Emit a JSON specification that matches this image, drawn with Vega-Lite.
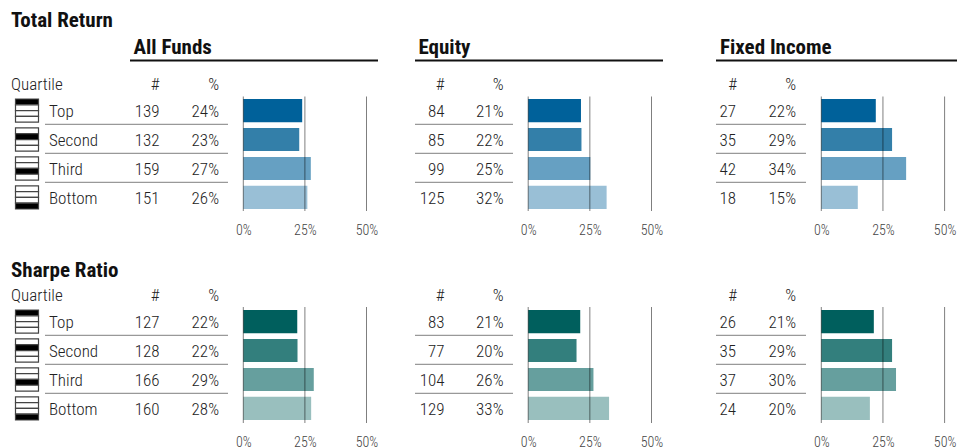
{"$schema":"https://vega.github.io/schema/vega-lite/v6.json","padding":0,"background":"#ffffff","bounds":"flush","spacing":{"row":45,"column":0},"columns":3,
"config":{"view":{"stroke":null},"font":"Roboto Condensed","text":{"font":"Roboto Condensed","fontWeight":300,"fontSize":17,"color":"#222222"},"title":{"font":"Roboto Condensed","fontSize":21,"fontWeight":"bold","color":"#111111","anchor":"start","frame":"group","baseline":"alphabetic"},"axis":{"labelFont":"Roboto Condensed","labelFontWeight":300,"labelFontSize":14,"labelColor":"#444444","labelBaseline":"top","labelPadding":12,"labelAngle":0,"domain":false,"ticks":false,"grid":false,"title":null,"labelFlush":false,"labelOverlap":false}},
"datasets":{"funds":[
{"metric":"Total Return","block":"All Funds","quartile":"Top","count":139,"share":0.239},
{"metric":"Total Return","block":"All Funds","quartile":"Second","count":132,"share":0.227},
{"metric":"Total Return","block":"All Funds","quartile":"Third","count":159,"share":0.274},
{"metric":"Total Return","block":"All Funds","quartile":"Bottom","count":151,"share":0.26},
{"metric":"Total Return","block":"Equity","quartile":"Top","count":84,"share":0.214},
{"metric":"Total Return","block":"Equity","quartile":"Second","count":85,"share":0.216},
{"metric":"Total Return","block":"Equity","quartile":"Third","count":99,"share":0.252},
{"metric":"Total Return","block":"Equity","quartile":"Bottom","count":125,"share":0.318},
{"metric":"Total Return","block":"Fixed Income","quartile":"Top","count":27,"share":0.221},
{"metric":"Total Return","block":"Fixed Income","quartile":"Second","count":35,"share":0.287},
{"metric":"Total Return","block":"Fixed Income","quartile":"Third","count":42,"share":0.344},
{"metric":"Total Return","block":"Fixed Income","quartile":"Bottom","count":18,"share":0.148},
{"metric":"Sharpe Ratio","block":"All Funds","quartile":"Top","count":127,"share":0.219},
{"metric":"Sharpe Ratio","block":"All Funds","quartile":"Second","count":128,"share":0.22},
{"metric":"Sharpe Ratio","block":"All Funds","quartile":"Third","count":166,"share":0.286},
{"metric":"Sharpe Ratio","block":"All Funds","quartile":"Bottom","count":160,"share":0.2754},
{"metric":"Sharpe Ratio","block":"Equity","quartile":"Top","count":83,"share":0.211},
{"metric":"Sharpe Ratio","block":"Equity","quartile":"Second","count":77,"share":0.196},
{"metric":"Sharpe Ratio","block":"Equity","quartile":"Third","count":104,"share":0.2646},
{"metric":"Sharpe Ratio","block":"Equity","quartile":"Bottom","count":129,"share":0.328},
{"metric":"Sharpe Ratio","block":"Fixed Income","quartile":"Top","count":26,"share":0.213},
{"metric":"Sharpe Ratio","block":"Fixed Income","quartile":"Second","count":35,"share":0.287},
{"metric":"Sharpe Ratio","block":"Fixed Income","quartile":"Third","count":37,"share":0.303},
{"metric":"Sharpe Ratio","block":"Fixed Income","quartile":"Bottom","count":24,"share":0.197}],
"icons":[
{"quartile":"Top","slot":1,"state":"filled"},{"quartile":"Top","slot":2,"state":"empty"},{"quartile":"Top","slot":3,"state":"empty"},{"quartile":"Top","slot":4,"state":"empty"},
{"quartile":"Second","slot":1,"state":"empty"},{"quartile":"Second","slot":2,"state":"filled"},{"quartile":"Second","slot":3,"state":"empty"},{"quartile":"Second","slot":4,"state":"empty"},
{"quartile":"Third","slot":1,"state":"empty"},{"quartile":"Third","slot":2,"state":"empty"},{"quartile":"Third","slot":3,"state":"filled"},{"quartile":"Third","slot":4,"state":"empty"},
{"quartile":"Bottom","slot":1,"state":"empty"},{"quartile":"Bottom","slot":2,"state":"empty"},{"quartile":"Bottom","slot":3,"state":"empty"},{"quartile":"Bottom","slot":4,"state":"filled"}],
"ticks":[{"tick":0},{"tick":0.25},{"tick":0.5}],"one":[{"n":1}],"heads":[{"label":"#"},{"label":"%"}]},
"concat":[
{"width":400,"height":211,"title":{"text":"All Funds","dx":133.5,"offset":-58},"data":{"name":"funds"},"transform":[{"filter":"datum.metric==='Total Return'&&datum.block==='All Funds'"}],"resolve":{"scale":{"x":"independent","y":"independent","color":"independent"}},"layer":[
{"data":{"name":"one"},"mark":{"type":"text","align":"left","baseline":"alphabetic","fontWeight":"bold","fontSize":21,"color":"#111111"},"encoding":{"text":{"value":"Total Return"},"x":{"datum":"q","scale":{"domain":["q"],"range":[11,11]},"axis":null},"y":{"datum":"t","scale":{"domain":["t"],"range":[27,27]},"axis":null}}},
{"data":{"name":"one"},"mark":{"type":"rule","stroke":"#111111","strokeWidth":2},"encoding":{"x":{"datum":0,"scale":{"domain":[0,1],"range":[130,378]},"axis":null},"x2":{"datum":1},"y":{"datum":"r","scale":{"domain":["r"],"range":[60.5,60.5]},"axis":null}}},
{"data":{"name":"icons"},"mark":{"type":"bar","stroke":"#444444","strokeWidth":1.2},"encoding":{"x":{"datum":0,"scale":{"domain":[0,1],"range":[15.5,38.5]},"axis":null},"x2":{"datum":1},"y":{"field":"quartile","type":"nominal","scale":{"domain":["Top","Second","Third","Bottom"],"range":[99,209],"paddingInner":0.2,"paddingOuter":0},"axis":null},"yOffset":{"field":"slot","type":"ordinal","scale":{"paddingInner":0,"paddingOuter":0}},"color":{"field":"state","type":"nominal","scale":{"domain":["filled","empty"],"range":["#000000","#ffffff"]},"legend":null}}},
{"mark":{"type":"bar"},"encoding":{"x":{"field":"share","type":"quantitative","scale":{"domain":[0,0.5],"range":[243.3,366.5],"nice":false},"axis":null},"y":{"field":"quartile","type":"nominal","scale":{"domain":["Top","Second","Third","Bottom"],"range":[99,209],"paddingInner":0.2,"paddingOuter":0},"axis":null},"color":{"field":"quartile","type":"nominal","scale":{"domain":["Top","Second","Third","Bottom"],"range":["#00619a","#337fa9","#66a0c2","#99bfd6"]},"legend":null}}},
{"data":{"name":"ticks"},"mark":{"type":"rule","stroke":"#000000","strokeOpacity":0.5,"strokeWidth":1},"encoding":{"x":{"field":"tick","type":"quantitative","scale":{"domain":[0,0.5],"range":[243.3,366.5],"nice":false},"axis":{"values":[0,0.25,0.5],"format":".0%"}},"y":{"datum":0,"scale":{"domain":[0,1],"range":[96.5,211]},"axis":null},"y2":{"datum":1}}},
{"mark":{"type":"text","align":"left"},"encoding":{"text":{"field":"quartile"},"x":{"datum":"l","scale":{"domain":["l"],"range":[49,49]},"axis":null},"y":{"field":"quartile","type":"nominal","scale":{"type":"band","domain":["Top","Second","Third","Bottom"],"range":[100.2,210.2],"paddingInner":0.2,"paddingOuter":0},"axis":null}}},
{"mark":{"type":"text","align":"right"},"encoding":{"text":{"field":"count"},"x":{"datum":"c","scale":{"domain":["c"],"range":[159.5,159.5]},"axis":null},"y":{"field":"quartile","type":"nominal","scale":{"type":"band","domain":["Top","Second","Third","Bottom"],"range":[100.2,210.2],"paddingInner":0.2,"paddingOuter":0},"axis":null}}},
{"mark":{"type":"text","align":"right"},"encoding":{"text":{"field":"share","format":".0%"},"x":{"datum":"p","scale":{"domain":["p"],"range":[219,219]},"axis":null},"y":{"field":"quartile","type":"nominal","scale":{"type":"band","domain":["Top","Second","Third","Bottom"],"range":[100.2,210.2],"paddingInner":0.2,"paddingOuter":0},"axis":null}}},
{"transform":[{"filter":"datum.quartile!=='Bottom'"}],"mark":{"type":"rule","stroke":"#999999","strokeWidth":1.2},"encoding":{"x":{"datum":0,"scale":{"domain":[0,1],"range":[45,228]},"axis":null},"x2":{"datum":1},"y":{"field":"quartile","type":"nominal","bandPosition":1.1,"scale":{"domain":["Top","Second","Third","Bottom"],"range":[99,209],"paddingInner":0.2,"paddingOuter":0},"axis":null}}},
{"data":{"name":"heads"},"mark":{"type":"text","align":"right"},"encoding":{"text":{"field":"label"},"x":{"field":"label","type":"nominal","scale":{"domain":["#","%"],"range":[159.5,219],"padding":0},"axis":null},"y":{"datum":"h","scale":{"domain":["h"],"range":[85,85]},"axis":null}}},
{"data":{"name":"one"},"mark":{"type":"text","align":"left"},"encoding":{"text":{"value":"Quartile"},"x":{"datum":"q","scale":{"domain":["q"],"range":[11,11]},"axis":null},"y":{"datum":"h","scale":{"domain":["h"],"range":[85,85]},"axis":null}}}
]},
{"width":300,"height":211,"title":{"text":"Equity","dx":18.5,"offset":-58},"data":{"name":"funds"},"transform":[{"filter":"datum.metric==='Total Return'&&datum.block==='Equity'"}],"resolve":{"scale":{"x":"independent","y":"independent","color":"independent"}},"layer":[
{"data":{"name":"one"},"mark":{"type":"rule","stroke":"#111111","strokeWidth":2},"encoding":{"x":{"datum":0,"scale":{"domain":[0,1],"range":[15,263]},"axis":null},"x2":{"datum":1},"y":{"datum":"r","scale":{"domain":["r"],"range":[60.5,60.5]},"axis":null}}},
{"mark":{"type":"bar"},"encoding":{"x":{"field":"share","type":"quantitative","scale":{"domain":[0,0.5],"range":[128.2,251.5],"nice":false},"axis":null},"y":{"field":"quartile","type":"nominal","scale":{"domain":["Top","Second","Third","Bottom"],"range":[99,209],"paddingInner":0.2,"paddingOuter":0},"axis":null},"color":{"field":"quartile","type":"nominal","scale":{"domain":["Top","Second","Third","Bottom"],"range":["#00619a","#337fa9","#66a0c2","#99bfd6"]},"legend":null}}},
{"data":{"name":"ticks"},"mark":{"type":"rule","stroke":"#000000","strokeOpacity":0.5,"strokeWidth":1},"encoding":{"x":{"field":"tick","type":"quantitative","scale":{"domain":[0,0.5],"range":[128.2,251.5],"nice":false},"axis":{"values":[0,0.25,0.5],"format":".0%"}},"y":{"datum":0,"scale":{"domain":[0,1],"range":[96.5,211]},"axis":null},"y2":{"datum":1}}},
{"mark":{"type":"text","align":"right"},"encoding":{"text":{"field":"count"},"x":{"datum":"c","scale":{"domain":["c"],"range":[44.5,44.5]},"axis":null},"y":{"field":"quartile","type":"nominal","scale":{"type":"band","domain":["Top","Second","Third","Bottom"],"range":[100.2,210.2],"paddingInner":0.2,"paddingOuter":0},"axis":null}}},
{"mark":{"type":"text","align":"right"},"encoding":{"text":{"field":"share","format":".0%"},"x":{"datum":"p","scale":{"domain":["p"],"range":[103.5,103.5]},"axis":null},"y":{"field":"quartile","type":"nominal","scale":{"type":"band","domain":["Top","Second","Third","Bottom"],"range":[100.2,210.2],"paddingInner":0.2,"paddingOuter":0},"axis":null}}},
{"transform":[{"filter":"datum.quartile!=='Bottom'"}],"mark":{"type":"rule","stroke":"#999999","strokeWidth":1.2},"encoding":{"x":{"datum":0,"scale":{"domain":[0,1],"range":[15,113]},"axis":null},"x2":{"datum":1},"y":{"field":"quartile","type":"nominal","bandPosition":1.1,"scale":{"domain":["Top","Second","Third","Bottom"],"range":[99,209],"paddingInner":0.2,"paddingOuter":0},"axis":null}}},
{"data":{"name":"heads"},"mark":{"type":"text","align":"right"},"encoding":{"text":{"field":"label"},"x":{"field":"label","type":"nominal","scale":{"domain":["#","%"],"range":[44.5,103.5],"padding":0},"axis":null},"y":{"datum":"h","scale":{"domain":["h"],"range":[85,85]},"axis":null}}}
]},
{"width":257,"height":211,"title":{"text":"Fixed Income","dx":20,"offset":-58},"data":{"name":"funds"},"transform":[{"filter":"datum.metric==='Total Return'&&datum.block==='Fixed Income'"}],"resolve":{"scale":{"x":"independent","y":"independent","color":"independent"}},"layer":[
{"data":{"name":"one"},"mark":{"type":"rule","stroke":"#111111","strokeWidth":2},"encoding":{"x":{"datum":0,"scale":{"domain":[0,1],"range":[16,257]},"axis":null},"x2":{"datum":1},"y":{"datum":"r","scale":{"domain":["r"],"range":[60.5,60.5]},"axis":null}}},
{"mark":{"type":"bar"},"encoding":{"x":{"field":"share","type":"quantitative","scale":{"domain":[0,0.5],"range":[121.3,244.6],"nice":false},"axis":null},"y":{"field":"quartile","type":"nominal","scale":{"domain":["Top","Second","Third","Bottom"],"range":[99,209],"paddingInner":0.2,"paddingOuter":0},"axis":null},"color":{"field":"quartile","type":"nominal","scale":{"domain":["Top","Second","Third","Bottom"],"range":["#00619a","#337fa9","#66a0c2","#99bfd6"]},"legend":null}}},
{"data":{"name":"ticks"},"mark":{"type":"rule","stroke":"#000000","strokeOpacity":0.5,"strokeWidth":1},"encoding":{"x":{"field":"tick","type":"quantitative","scale":{"domain":[0,0.5],"range":[121.3,244.6],"nice":false},"axis":{"values":[0,0.25,0.5],"format":".0%"}},"y":{"datum":0,"scale":{"domain":[0,1],"range":[96.5,211]},"axis":null},"y2":{"datum":1}}},
{"mark":{"type":"text","align":"right"},"encoding":{"text":{"field":"count"},"x":{"datum":"c","scale":{"domain":["c"],"range":[36,36]},"axis":null},"y":{"field":"quartile","type":"nominal","scale":{"type":"band","domain":["Top","Second","Third","Bottom"],"range":[100.2,210.2],"paddingInner":0.2,"paddingOuter":0},"axis":null}}},
{"mark":{"type":"text","align":"right"},"encoding":{"text":{"field":"share","format":".0%"},"x":{"datum":"p","scale":{"domain":["p"],"range":[96,96]},"axis":null},"y":{"field":"quartile","type":"nominal","scale":{"type":"band","domain":["Top","Second","Third","Bottom"],"range":[100.2,210.2],"paddingInner":0.2,"paddingOuter":0},"axis":null}}},
{"transform":[{"filter":"datum.quartile!=='Bottom'"}],"mark":{"type":"rule","stroke":"#999999","strokeWidth":1.2},"encoding":{"x":{"datum":0,"scale":{"domain":[0,1],"range":[16,106]},"axis":null},"x2":{"datum":1},"y":{"field":"quartile","type":"nominal","bandPosition":1.1,"scale":{"domain":["Top","Second","Third","Bottom"],"range":[99,209],"paddingInner":0.2,"paddingOuter":0},"axis":null}}},
{"data":{"name":"heads"},"mark":{"type":"text","align":"right"},"encoding":{"text":{"field":"label"},"x":{"field":"label","type":"nominal","scale":{"domain":["#","%"],"range":[37,96],"padding":0},"axis":null},"y":{"datum":"h","scale":{"domain":["h"],"range":[85,85]},"axis":null}}}
]},
{"width":400,"height":167,"data":{"name":"funds"},"transform":[{"filter":"datum.metric==='Sharpe Ratio'&&datum.block==='All Funds'"}],"resolve":{"scale":{"x":"independent","y":"independent","color":"independent"}},"layer":[
{"data":{"name":"one"},"mark":{"type":"text","align":"left","baseline":"alphabetic","fontWeight":"bold","fontSize":21,"color":"#111111"},"encoding":{"text":{"value":"Sharpe Ratio"},"x":{"datum":"q","scale":{"domain":["q"],"range":[11,11]},"axis":null},"y":{"datum":"t","scale":{"domain":["t"],"range":[21,21]},"axis":null}}},
{"data":{"name":"icons"},"mark":{"type":"bar","stroke":"#444444","strokeWidth":1.2},"encoding":{"x":{"datum":0,"scale":{"domain":[0,1],"range":[15.5,38.5]},"axis":null},"x2":{"datum":1},"y":{"field":"quartile","type":"nominal","scale":{"domain":["Top","Second","Third","Bottom"],"range":[54,164],"paddingInner":0.2,"paddingOuter":0},"axis":null},"yOffset":{"field":"slot","type":"ordinal","scale":{"paddingInner":0,"paddingOuter":0}},"color":{"field":"state","type":"nominal","scale":{"domain":["filled","empty"],"range":["#000000","#ffffff"]},"legend":null}}},
{"mark":{"type":"bar"},"encoding":{"x":{"field":"share","type":"quantitative","scale":{"domain":[0,0.5],"range":[243.3,366.5],"nice":false},"axis":null},"y":{"field":"quartile","type":"nominal","scale":{"domain":["Top","Second","Third","Bottom"],"range":[54,164],"paddingInner":0.2,"paddingOuter":0},"axis":null},"color":{"field":"quartile","type":"nominal","scale":{"domain":["Top","Second","Third","Bottom"],"range":["#005f5d","#337f7d","#669f9e","#99bfbe"]},"legend":null}}},
{"data":{"name":"ticks"},"mark":{"type":"rule","stroke":"#000000","strokeOpacity":0.5,"strokeWidth":1},"encoding":{"x":{"field":"tick","type":"quantitative","scale":{"domain":[0,0.5],"range":[243.3,366.5],"nice":false},"axis":{"values":[0,0.25,0.5],"format":".0%"}},"y":{"datum":0,"scale":{"domain":[0,1],"range":[51,167]},"axis":null},"y2":{"datum":1}}},
{"mark":{"type":"text","align":"left"},"encoding":{"text":{"field":"quartile"},"x":{"datum":"l","scale":{"domain":["l"],"range":[49,49]},"axis":null},"y":{"field":"quartile","type":"nominal","scale":{"type":"band","domain":["Top","Second","Third","Bottom"],"range":[55.2,165.2],"paddingInner":0.2,"paddingOuter":0},"axis":null}}},
{"mark":{"type":"text","align":"right"},"encoding":{"text":{"field":"count"},"x":{"datum":"c","scale":{"domain":["c"],"range":[159.5,159.5]},"axis":null},"y":{"field":"quartile","type":"nominal","scale":{"type":"band","domain":["Top","Second","Third","Bottom"],"range":[55.2,165.2],"paddingInner":0.2,"paddingOuter":0},"axis":null}}},
{"mark":{"type":"text","align":"right"},"encoding":{"text":{"field":"share","format":".0%"},"x":{"datum":"p","scale":{"domain":["p"],"range":[219,219]},"axis":null},"y":{"field":"quartile","type":"nominal","scale":{"type":"band","domain":["Top","Second","Third","Bottom"],"range":[55.2,165.2],"paddingInner":0.2,"paddingOuter":0},"axis":null}}},
{"transform":[{"filter":"datum.quartile!=='Bottom'"}],"mark":{"type":"rule","stroke":"#999999","strokeWidth":1.2},"encoding":{"x":{"datum":0,"scale":{"domain":[0,1],"range":[45,228]},"axis":null},"x2":{"datum":1},"y":{"field":"quartile","type":"nominal","bandPosition":1.1,"scale":{"domain":["Top","Second","Third","Bottom"],"range":[54,164],"paddingInner":0.2,"paddingOuter":0},"axis":null}}},
{"data":{"name":"heads"},"mark":{"type":"text","align":"right"},"encoding":{"text":{"field":"label"},"x":{"field":"label","type":"nominal","scale":{"domain":["#","%"],"range":[159.5,219],"padding":0},"axis":null},"y":{"datum":"h","scale":{"domain":["h"],"range":[40,40]},"axis":null}}},
{"data":{"name":"one"},"mark":{"type":"text","align":"left"},"encoding":{"text":{"value":"Quartile"},"x":{"datum":"q","scale":{"domain":["q"],"range":[11,11]},"axis":null},"y":{"datum":"h","scale":{"domain":["h"],"range":[40,40]},"axis":null}}}
]},
{"width":300,"height":167,"data":{"name":"funds"},"transform":[{"filter":"datum.metric==='Sharpe Ratio'&&datum.block==='Equity'"}],"resolve":{"scale":{"x":"independent","y":"independent","color":"independent"}},"layer":[
{"mark":{"type":"bar"},"encoding":{"x":{"field":"share","type":"quantitative","scale":{"domain":[0,0.5],"range":[128.2,251.5],"nice":false},"axis":null},"y":{"field":"quartile","type":"nominal","scale":{"domain":["Top","Second","Third","Bottom"],"range":[54,164],"paddingInner":0.2,"paddingOuter":0},"axis":null},"color":{"field":"quartile","type":"nominal","scale":{"domain":["Top","Second","Third","Bottom"],"range":["#005f5d","#337f7d","#669f9e","#99bfbe"]},"legend":null}}},
{"data":{"name":"ticks"},"mark":{"type":"rule","stroke":"#000000","strokeOpacity":0.5,"strokeWidth":1},"encoding":{"x":{"field":"tick","type":"quantitative","scale":{"domain":[0,0.5],"range":[128.2,251.5],"nice":false},"axis":{"values":[0,0.25,0.5],"format":".0%"}},"y":{"datum":0,"scale":{"domain":[0,1],"range":[51,167]},"axis":null},"y2":{"datum":1}}},
{"mark":{"type":"text","align":"right"},"encoding":{"text":{"field":"count"},"x":{"datum":"c","scale":{"domain":["c"],"range":[44.5,44.5]},"axis":null},"y":{"field":"quartile","type":"nominal","scale":{"type":"band","domain":["Top","Second","Third","Bottom"],"range":[55.2,165.2],"paddingInner":0.2,"paddingOuter":0},"axis":null}}},
{"mark":{"type":"text","align":"right"},"encoding":{"text":{"field":"share","format":".0%"},"x":{"datum":"p","scale":{"domain":["p"],"range":[103.5,103.5]},"axis":null},"y":{"field":"quartile","type":"nominal","scale":{"type":"band","domain":["Top","Second","Third","Bottom"],"range":[55.2,165.2],"paddingInner":0.2,"paddingOuter":0},"axis":null}}},
{"transform":[{"filter":"datum.quartile!=='Bottom'"}],"mark":{"type":"rule","stroke":"#999999","strokeWidth":1.2},"encoding":{"x":{"datum":0,"scale":{"domain":[0,1],"range":[15,113]},"axis":null},"x2":{"datum":1},"y":{"field":"quartile","type":"nominal","bandPosition":1.1,"scale":{"domain":["Top","Second","Third","Bottom"],"range":[54,164],"paddingInner":0.2,"paddingOuter":0},"axis":null}}},
{"data":{"name":"heads"},"mark":{"type":"text","align":"right"},"encoding":{"text":{"field":"label"},"x":{"field":"label","type":"nominal","scale":{"domain":["#","%"],"range":[44.5,103.5],"padding":0},"axis":null},"y":{"datum":"h","scale":{"domain":["h"],"range":[40,40]},"axis":null}}}
]},
{"width":257,"height":167,"data":{"name":"funds"},"transform":[{"filter":"datum.metric==='Sharpe Ratio'&&datum.block==='Fixed Income'"}],"resolve":{"scale":{"x":"independent","y":"independent","color":"independent"}},"layer":[
{"mark":{"type":"bar"},"encoding":{"x":{"field":"share","type":"quantitative","scale":{"domain":[0,0.5],"range":[121.3,244.6],"nice":false},"axis":null},"y":{"field":"quartile","type":"nominal","scale":{"domain":["Top","Second","Third","Bottom"],"range":[54,164],"paddingInner":0.2,"paddingOuter":0},"axis":null},"color":{"field":"quartile","type":"nominal","scale":{"domain":["Top","Second","Third","Bottom"],"range":["#005f5d","#337f7d","#669f9e","#99bfbe"]},"legend":null}}},
{"data":{"name":"ticks"},"mark":{"type":"rule","stroke":"#000000","strokeOpacity":0.5,"strokeWidth":1},"encoding":{"x":{"field":"tick","type":"quantitative","scale":{"domain":[0,0.5],"range":[121.3,244.6],"nice":false},"axis":{"values":[0,0.25,0.5],"format":".0%"}},"y":{"datum":0,"scale":{"domain":[0,1],"range":[51,167]},"axis":null},"y2":{"datum":1}}},
{"mark":{"type":"text","align":"right"},"encoding":{"text":{"field":"count"},"x":{"datum":"c","scale":{"domain":["c"],"range":[36,36]},"axis":null},"y":{"field":"quartile","type":"nominal","scale":{"type":"band","domain":["Top","Second","Third","Bottom"],"range":[55.2,165.2],"paddingInner":0.2,"paddingOuter":0},"axis":null}}},
{"mark":{"type":"text","align":"right"},"encoding":{"text":{"field":"share","format":".0%"},"x":{"datum":"p","scale":{"domain":["p"],"range":[96,96]},"axis":null},"y":{"field":"quartile","type":"nominal","scale":{"type":"band","domain":["Top","Second","Third","Bottom"],"range":[55.2,165.2],"paddingInner":0.2,"paddingOuter":0},"axis":null}}},
{"transform":[{"filter":"datum.quartile!=='Bottom'"}],"mark":{"type":"rule","stroke":"#999999","strokeWidth":1.2},"encoding":{"x":{"datum":0,"scale":{"domain":[0,1],"range":[16,106]},"axis":null},"x2":{"datum":1},"y":{"field":"quartile","type":"nominal","bandPosition":1.1,"scale":{"domain":["Top","Second","Third","Bottom"],"range":[54,164],"paddingInner":0.2,"paddingOuter":0},"axis":null}}},
{"data":{"name":"heads"},"mark":{"type":"text","align":"right"},"encoding":{"text":{"field":"label"},"x":{"field":"label","type":"nominal","scale":{"domain":["#","%"],"range":[37,96],"padding":0},"axis":null},"y":{"datum":"h","scale":{"domain":["h"],"range":[40,40]},"axis":null}}}
]}
]}
